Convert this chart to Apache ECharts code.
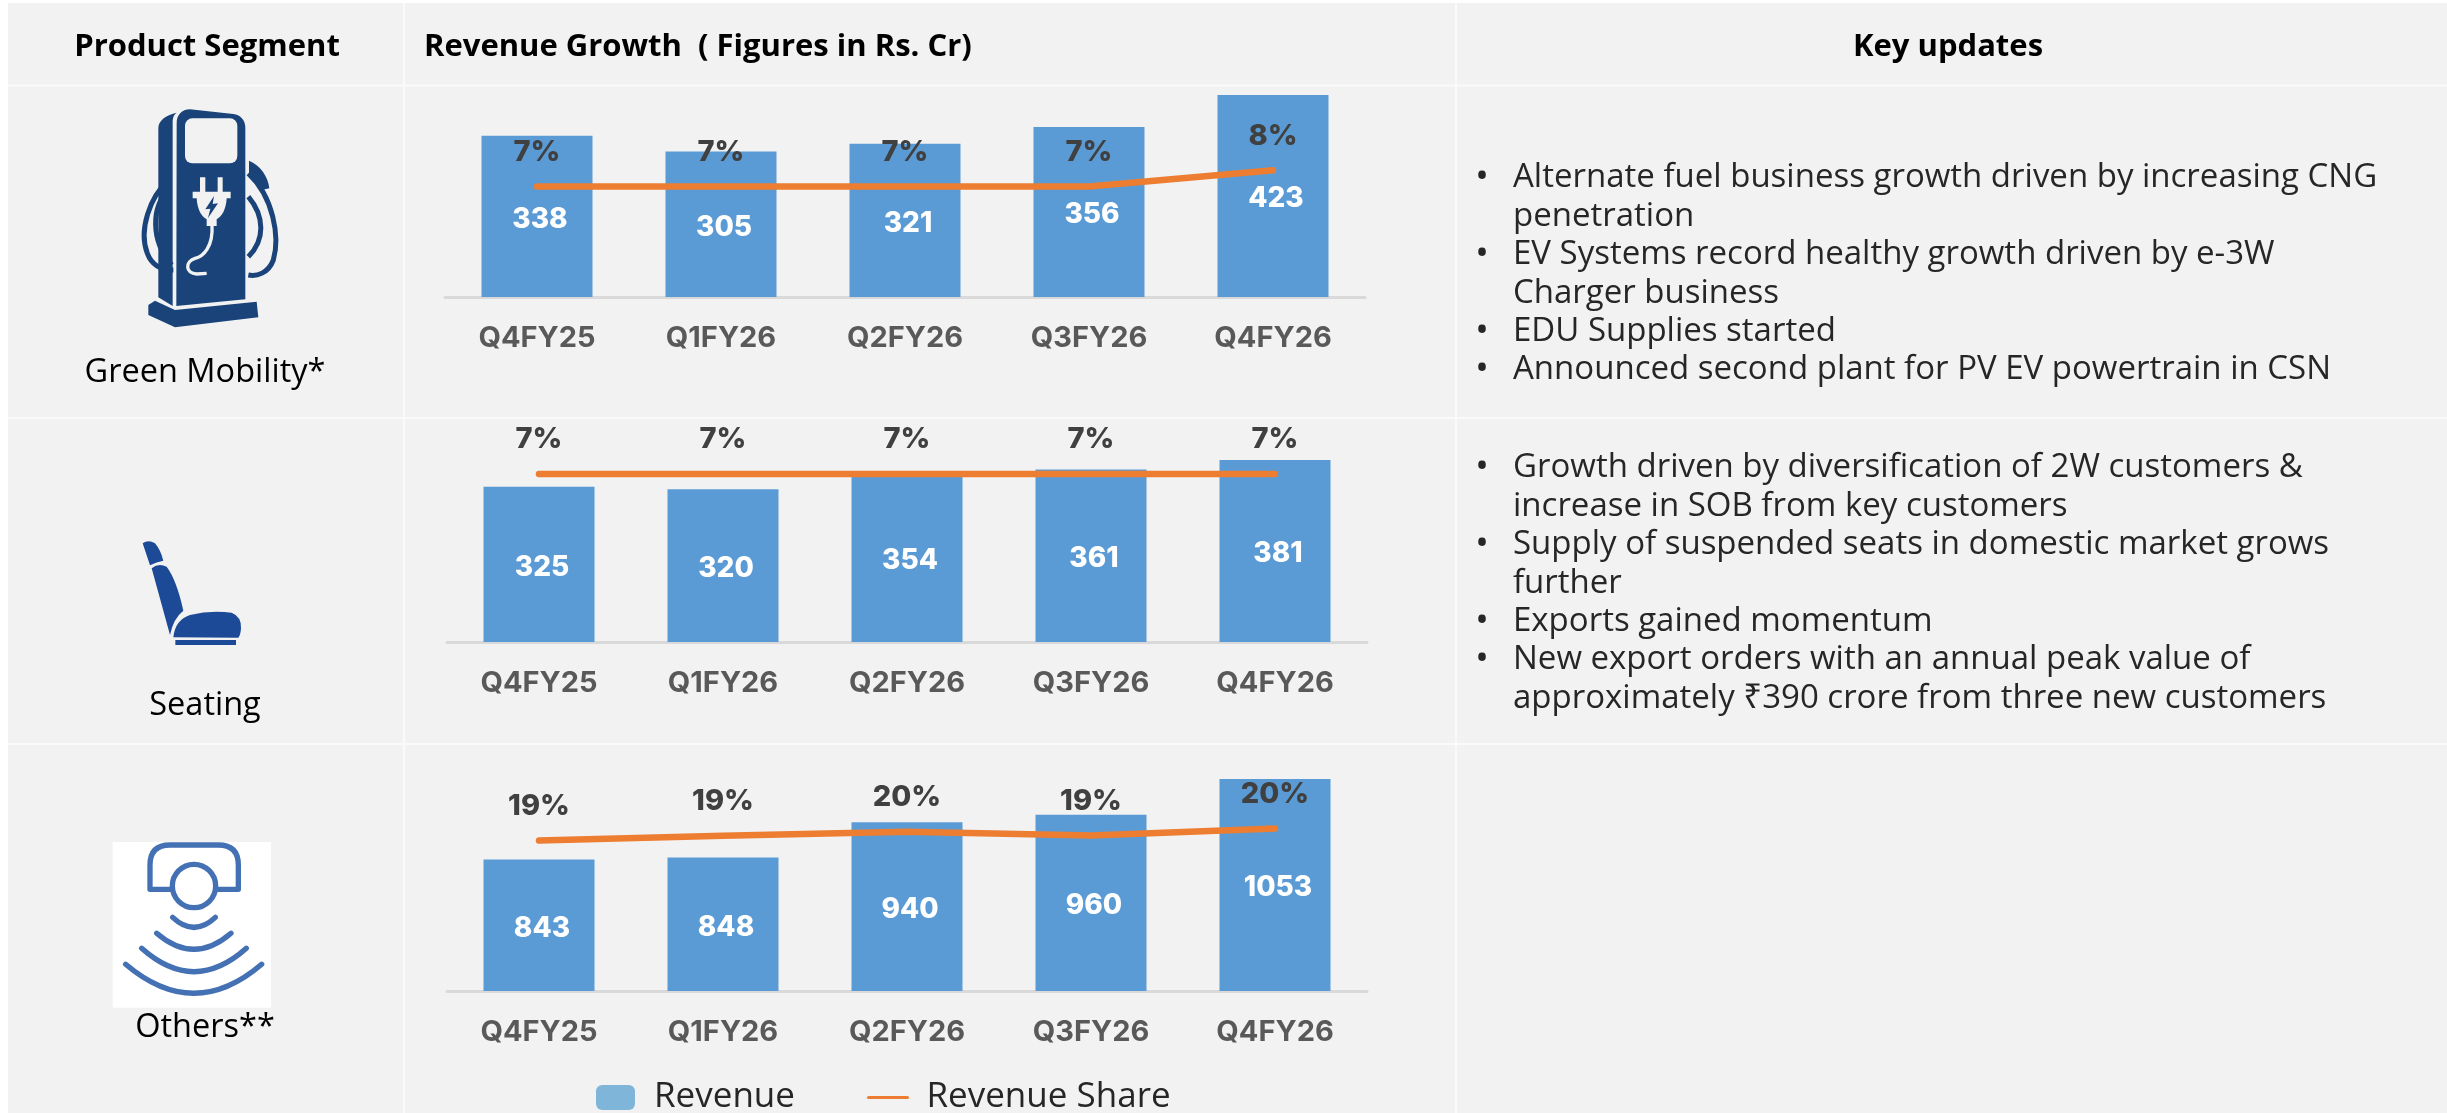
<!DOCTYPE html>
<html>
<head>
<meta charset="utf-8">
<style>
  html, body { margin: 0; padding: 0; background: #fff; }
  #main { width: 2447px; height: 1113px; }
</style>
</head>
<body>
<div id="main"></div>
<script src="https://cdn.jsdelivr.net/npm/echarts@6/dist/echarts.min.js"></script>
<script>
const categories = ['Q4FY25', 'Q1FY26', 'Q2FY26', 'Q3FY26', 'Q4FY26']

// 收入 (Rs. Cr)
const greenRevenue = [338, 305, 321, 356, 423]
const seatingRevenue = [325, 320, 354, 361, 381]
const othersRevenue = [843, 848, 940, 960, 1053]

// 收入占比 (%), the label shows it rounded
const greenShare = [7, 7, 7, 7, 8]
const seatingShare = [7, 7, 7, 7, 7]
const othersShare = [18.8, 19.4, 19.9, 19.45, 20.3]

const segmentNames = ['Green Mobility*', 'Seating', 'Others**']
const headers = ['Product Segment', 'Revenue Growth  ( Figures in Rs. Cr)', 'Key updates']

const greenUpdates = [
  ['Alternate fuel business growth driven by increasing CNG', 'penetration'],
  ['EV Systems record healthy growth driven by e-3W', 'Charger business'],
  ['EDU Supplies started'],
  ['Announced second plant for PV EV powertrain in CSN']
]
const seatingUpdates = [
  ['Growth driven by diversification of 2W customers &', 'increase in SOB from key customers'],
  ['Supply of suspended seats in domestic market grows', 'further'],
  ['Exports gained momentum'],
  ['New export orders with an annual peak value of', 'approximately ₹390 crore from three new customers']
]

const BAR = '#5B9BD5'
const LINE = '#ED7D31'
const BODY_FONT = '"Open Sans", "Noto Sans", "DejaVu Sans"'
const NUM_FONT = 'Inter, "Open Sans"'

// one row of the chart column
const rows = [
  { revenue: greenRevenue, share: greenShare, left: 445, top: 87, height: 210, revMin: 0, revMax: 440, shareMin: 0.1, shareMax: 13.2 },
  { revenue: seatingRevenue, share: seatingShare, left: 447, top: 451, height: 191, revMin: 0, revMax: 400, shareMin: 0, shareMax: 7.96 },
  { revenue: othersRevenue, share: othersShare, left: 447, top: 761, height: 230, revMin: 500, revMax: 1100, shareMin: 0, shareMax: 28.75 }
]

const grid = []
const xAxis = []
const yAxis = []
const series = []
rows.forEach((row, i) => {
  grid.push({ left: row.left, top: row.top, width: 920, height: row.height })
  xAxis.push({
    type: 'category',
    gridIndex: i,
    data: categories,
    axisTick: { show: false },
    axisLine: { lineStyle: { color: '#d9d9d9', width: 3 } },
    axisLabel: { color: '#595959', fontFamily: NUM_FONT, fontWeight: 700, fontSize: 29, margin: 27, interval: 0 }
  })
  yAxis.push(
    { type: 'value', gridIndex: i, min: row.revMin, max: row.revMax, show: false, splitLine: { show: false } },
    { type: 'value', gridIndex: i, min: row.shareMin, max: row.shareMax, show: false, splitLine: { show: false } }
  )
  series.push({
    name: 'Revenue',
    type: 'bar',
    xAxisIndex: i,
    yAxisIndex: i * 2,
    data: row.revenue,
    barWidth: 111,
    itemStyle: { color: BAR },
    label: {
      show: true,
      position: 'inside',
      offset: [3, 3],
      color: '#fff',
      fontFamily: NUM_FONT,
      fontWeight: 800,
      fontSize: 28
    }
  }, {
    name: 'Revenue Share',
    type: 'line',
    xAxisIndex: i,
    yAxisIndex: i * 2 + 1,
    data: row.share,
    symbol: 'circle',
    symbolSize: 0,
    showAllSymbol: true,
    z: 5,
    lineStyle: { color: LINE, width: 6.5, cap: 'round', join: 'round' },
    itemStyle: { color: LINE },
    label: {
      show: true,
      position: 'top',
      distance: 20,
      color: '#404040',
      fontFamily: NUM_FONT,
      fontWeight: 800,
      fontSize: 29,
      formatter: p => Math.round(p.value) + '%'
    }
  })
})

function text (str, x, y, size, opt) {
  return {
    type: 'text',
    z: 1,
    style: Object.assign({
      text: str, x: x, y: y,
      font: (opt && opt.weight || 400) + ' ' + size + 'px ' + BODY_FONT,
      fill: '#000',
      align: 'center',
      verticalAlign: 'middle'
    }, opt && opt.style)
  }
}

// cell background and the pale rules between cells
const cells = [
  { type: 'rect', z: -2, shape: { x: 8, y: 3, width: 2439, height: 1110 }, style: { fill: '#f2f2f2' } }
]
const rules = [[404, 3, 404, 1113], [1456, 3, 1456, 1113], [8, 85.5, 2447, 85.5], [8, 418, 2447, 418], [8, 744, 2447, 744]]
rules.forEach(r => {
  cells.push({ type: 'line', z: -1, shape: { x1: r[0], y1: r[1], x2: r[2], y2: r[3] }, style: { stroke: '#fafafa', lineWidth: 2 } })
})

const labels = [
  text(headers[0], 207, 47.5, 31, { weight: 700 }),
  text(headers[1], 424, 47.5, 31, { weight: 700, style: { align: 'left' } }),
  text(headers[2], 1948, 47.5, 31, { weight: 700 }),
  text(segmentNames[0], 205, 373, 32.5),
  text(segmentNames[1], 205, 706, 32.5),
  text(segmentNames[2], 205, 1028, 32.5)
]

function bulletList (items, startY) {
  let y = startY
  items.forEach(lines => {
    labels.push(text('•', 1482, y, 36, { style: { fill: '#262626' } }))
    lines.forEach(line => {
      labels.push(text(line, 1513, y, 33, { style: { align: 'left', fill: '#262626' } }))
      y += 38.4
    })
  })
}
bulletList(greenUpdates, 178)
bulletList(seatingUpdates, 468)

// graphic has no plain path type, so each outline gets registered as a shape
let shapeCount = 0
function outline (d, style) {
  const name = 'outline' + shapeCount++
  echarts.graphic.registerShape(name, echarts.graphic.extendPath(d, {}))
  return { type: name, style: style }
}

// icons, drawn in the zoomed pixel space of each crop and scaled back
const NAVY = '#1A4479'
const BG = '#f2f2f2'
const pumpIcon = {
  type: 'group', x: 60, y: 90, scaleX: 1 / 3, scaleY: 1 / 3,
  children: [
    outline('M325,272 C270,320 235,420 262,490 C275,525 305,540 340,540 M325,300 C275,350 270,450 335,525 M565,250 C640,320 660,440 640,510 C625,550 590,560 565,555 M565,320 C615,380 615,450 565,500', { stroke: NAVY, fill: 'none', lineWidth: 15 }),
    outline('M567,212 C600,225 625,260 628,295 L605,300 C590,280 575,265 567,258 Z', { fill: NAVY }),
    outline('M295,115 C295,90 320,75 350,68 C340,75 338,85 338,100 L338,648 L295,622 Z', { fill: NAVY }),
    outline('M350,100 C350,75 365,58 390,58 L520,72 C540,74 556,90 556,112 L556,628 L349,648 Z', { fill: NAVY }),
    { type: 'rect', shape: { x: 375, y: 85, width: 157, height: 135, r: 22 }, style: { fill: BG } },
    outline('M265,645 L285,632 L345,660 L590,635 L595,682 L345,712 L265,675 Z', { fill: NAVY }),
    outline('M420,262 L436,262 L436,305 L473,305 L473,262 L488,262 L488,305 L512,305 L512,325 L500,325 C498,360 485,380 470,388 L470,408 L440,408 L440,388 C425,380 412,360 410,325 L398,325 L398,305 L420,305 Z', { fill: BG }),
    outline('M462,318 L436,358 L451,356 L444,384 L474,340 L458,342 Z', { fill: NAVY }),
    outline('M456,405 C460,470 430,500 405,505 C375,515 375,550 410,552 L440,550', { stroke: BG, fill: 'none', lineWidth: 10 })
  ]
}
const SEAT = '#1C4A96'
const seatIcon = {
  type: 'group', x: 90, y: 520, scaleX: 1 / 3, scaleY: 1 / 3,
  children: [
    outline('M158,70 Q175,58 195,70 Q212,90 220,122 Q200,126 180,136 Z', { fill: SEAT }),
    outline('M185,145 Q205,128 230,140 Q260,180 280,272 Q250,295 240,345 Z', { fill: SEAT }),
    outline('M250,352 Q255,300 300,285 Q360,270 425,278 Q455,290 453,325 Q452,345 445,353 Z', { fill: SEAT }),
    { type: 'rect', shape: { x: 256, y: 360, width: 182, height: 15 }, style: { fill: SEAT } }
  ]
}
const RING = '#4470B4'
const ringStyle = { stroke: RING, fill: 'none', lineWidth: 16, lineCap: 'round', lineJoin: 'round' }
const othersIcon = {
  type: 'group', x: 90, y: 830, scaleX: 1 / 3, scaleY: 1 / 3,
  children: [
    { type: 'rect', shape: { x: 68, y: 36, width: 475, height: 497 }, style: { fill: '#fff' } },
    outline('M245,178 L180,178 L180,105 Q180,45 240,45 L385,45 Q445,45 445,105 L445,178 L380,178', ringStyle),
    { type: 'circle', shape: { cx: 312, cy: 168, r: 65 }, style: { stroke: RING, fill: '#fff', lineWidth: 16 } },
    outline('M248,262 Q312,322 376,262 M200,310 Q312,406 423,310 M155,355 Q312,495 469,355 M107,403 Q312,577 515,403', ringStyle)
  ]
}

const chart = echarts.init(document.getElementById('main'), null, { renderer: 'canvas' })
chart.setOption({
  animation: false,
  backgroundColor: '#fff',
  grid: grid,
  xAxis: xAxis,
  yAxis: yAxis,
  series: series,
  legend: {
    left: 591,
    top: 1075,
    itemWidth: 39,
    itemHeight: 25,
    itemGap: 72,
    selectedMode: false,
    textStyle: { fontFamily: BODY_FONT, fontSize: 35, color: '#262626', padding: [0, 0, 0, 14] },
    data: [
      { name: 'Revenue', icon: 'roundRect', itemStyle: { color: '#7FB5D8' } },
      // hide the marker that a line series puts on its legend key
      { name: 'Revenue Share', itemStyle: { opacity: 0 }, lineStyle: { color: LINE, width: 3 } }
    ]
  },
  graphic: cells.concat(labels, [pumpIcon, seatIcon, othersIcon])
})
</script>
</body>
</html>
